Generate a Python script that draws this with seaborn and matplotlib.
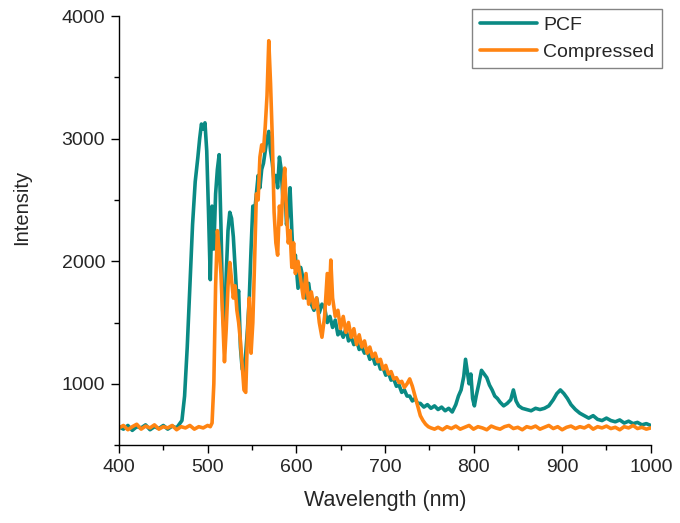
import numpy as np
import pandas as pd
import seaborn as sns
import matplotlib.pyplot as plt
from matplotlib.ticker import MultipleLocator

# PCF spectrum
pcf_wl = [400, 405, 410, 415, 420, 425, 430, 435, 440, 445, 450, 455, 460, 465, 468,
          471, 474, 477, 480, 483, 486, 489, 491, 493, 495, 497, 499, 501, 503, 505,
          507, 509, 511, 513, 515, 517, 519, 521, 523, 525, 527, 529, 531, 533, 535,
          537, 539, 541, 543, 545, 547, 549, 551, 553, 555, 557, 559, 561, 563, 565,
          567, 569, 571, 573, 575, 577, 579, 581, 583, 585, 587, 589, 591, 593, 595,
          597, 599, 602, 605, 608, 611, 614, 617, 620, 623, 626, 629, 632, 635, 638,
          641, 644, 647, 650, 653, 656, 659, 662, 665, 668, 671, 674, 677, 680, 683,
          686, 689, 692, 695, 698, 701, 704, 707, 710, 713, 716, 719, 722, 725, 728,
          731, 734, 737, 740, 744, 748, 752, 756, 760, 764, 768, 772, 776, 780, 783,
          786, 789, 791, 793, 795, 797, 799, 801, 803, 806, 809, 812, 815, 818, 821,
          824, 827, 830, 834, 838, 842, 845, 848, 851, 855, 860, 865, 870, 875, 880,
          885, 890, 894, 898, 902, 906, 910, 915, 920, 925, 930, 935, 940, 945, 950,
          955, 960, 965, 970, 975, 980, 985, 990, 995, 1000]
pcf_int = [650, 630, 660, 620, 650, 640, 665, 625, 650, 635, 660, 630, 655, 640, 670,
           700, 900, 1300, 1800, 2300, 2650, 2850, 3000, 3120, 3080, 3130, 2900, 2400, 1850, 2450,
           2100, 2550, 2750, 2870, 2300, 1600, 1380, 1900, 2250, 2400, 2350, 2200, 1950, 1700, 1760,
           1300, 1120, 1100, 1250, 1450, 1700, 2100, 2450, 2400, 2550, 2700, 2600, 2750, 2800, 2900,
           3000, 3060, 2900, 2800, 2650, 2700, 2600, 2850, 2750, 2500, 2650, 2300, 2400, 2600, 2250,
           1950, 2050, 1780, 1950, 1850, 1700, 1820, 1650, 1600, 1700, 1580, 1650, 1620, 1500, 1550,
           1460, 1520, 1400, 1430, 1380, 1450, 1350, 1380, 1320, 1360, 1280, 1300, 1250, 1270, 1200,
           1230, 1160, 1190, 1120, 1130, 1070, 1090, 1030, 1040, 980, 990, 930, 950, 900, 900,
           860, 880, 840, 840, 810, 830, 800, 820, 790, 810, 780, 800, 770, 830, 900,
           950, 1060, 1200, 1100, 1000, 1080, 880, 820, 900, 1000, 1110, 1080, 1050, 990, 950,
           900, 880, 850, 820, 840, 870, 950, 860, 820, 800, 790, 780, 800, 790, 800,
           820, 870, 920, 950, 920, 880, 830, 790, 760, 740, 720, 740, 710, 700, 720,
           700, 690, 705, 680, 695, 675, 685, 665, 675, 660]

# Compressed spectrum
cmp_wl = [400, 405, 410, 415, 420, 425, 430, 435, 440, 445, 450, 455, 460, 465, 470,
          475, 480, 485, 490, 495, 500, 503, 505, 507, 509, 511, 513, 515, 517, 519,
          521, 523, 525, 527, 529, 531, 533, 535, 537, 539, 541, 543, 545, 547, 549,
          551, 553, 555, 557, 559, 561, 563, 565, 567, 569, 571, 573, 575, 577, 579,
          581, 583, 585, 587, 589, 591, 593, 595, 597, 599, 602, 605, 608, 611, 614,
          617, 620, 623, 626, 629, 632, 635, 637, 639, 641, 644, 647, 650, 653, 656,
          659, 662, 665, 668, 671, 674, 677, 680, 683, 686, 689, 692, 695, 698, 701,
          704, 707, 710, 713, 716, 719, 722, 725, 728, 731, 734, 737, 740, 743, 746,
          749, 752, 756, 760, 765, 770, 775, 780, 785, 790, 795, 800, 805, 810, 815,
          820, 825, 830, 835, 840, 845, 850, 855, 860, 865, 870, 875, 880, 885, 890,
          895, 900, 905, 910, 915, 920, 925, 930, 935, 940, 945, 950, 955, 960, 965,
          970, 975, 980, 985, 990, 995, 1000]
cmp_int = [640, 660, 625, 650, 670, 630, 655, 640, 665, 630, 650, 640, 660, 625, 650,
           640, 660, 630, 650, 640, 660, 650, 680, 1000, 1800, 2250, 2100, 1900, 1550, 1180,
           1450, 1800, 1990, 1850, 1700, 1800, 1600, 1500, 1350, 1150, 950, 930, 1400, 1700, 1250,
           1500, 2000, 2550, 2500, 2850, 2950, 2900, 3100, 3350, 3800, 3450, 3000, 2400, 2150, 2050,
           2450, 2300, 2600, 2760, 2400, 2150, 2250, 1950, 2150, 1900, 2000, 1850, 1700, 1900, 1650,
           1750, 1620, 1700, 1500, 1380, 1550, 1900, 1650, 2010, 1700, 1550, 1600, 1450, 1550, 1420,
           1500, 1380, 1450, 1320, 1400, 1300, 1350, 1250, 1300, 1220, 1250, 1180, 1200, 1120, 1150,
           1080, 1100, 1040, 1050, 1010, 1020, 970, 1000, 1040, 980, 900, 820, 740, 700, 670,
           650, 640, 630, 645, 625, 650, 635, 655, 630, 645, 660, 630, 650, 640, 625,
           655, 640, 630, 650, 660, 635, 645, 625, 650, 640, 655, 630, 645, 660, 635,
           650, 625, 645, 655, 635, 650, 640, 660, 630, 650, 640, 655, 635, 645, 625,
           650, 640, 660, 635, 645, 630, 640]

df_pcf = pd.DataFrame({'wl': pcf_wl, 'val': pcf_int})
df_cmp = pd.DataFrame({'wl': cmp_wl, 'val': cmp_int})

sns.set_style('ticks')
plt.rcParams['font.family'] = ['Liberation Sans', 'DejaVu Sans']

fig = plt.figure(figsize=(6.8, 5.23), dpi=100)
ax = fig.add_axes([0.175, 0.149, 0.782, 0.82])
sns.lineplot(data=df_pcf, x='wl', y='val', ax=ax, color='#0a8a84', lw=2.6, label='PCF')
sns.lineplot(data=df_cmp, x='wl', y='val', ax=ax, color='#ff8412', lw=2.6, label='Compressed')

ax.set_xlim(400, 1000)
ax.set_ylim(500, 4000)
ax.xaxis.set_major_locator(MultipleLocator(100))
ax.xaxis.set_minor_locator(MultipleLocator(50))
ax.yaxis.set_major_locator(MultipleLocator(1000))
ax.yaxis.set_minor_locator(MultipleLocator(500))
ax.tick_params(which='major', length=6, width=1, labelsize=14, color='black', pad=4)
ax.tick_params(which='minor', length=3.5, width=1, color='black')
for s in ['left', 'bottom']:
    ax.spines[s].set_color('black')
    ax.spines[s].set_linewidth(1)
sns.despine(ax=ax)
ax.set_xlabel('Wavelength (nm)', fontsize=15.5, labelpad=10)
ax.set_ylabel('Intensity', fontsize=14.5)
ax.yaxis.set_label_coords(-0.165, 0.555)

leg = ax.legend(loc='upper right', bbox_to_anchor=(0.974, 0.983), bbox_transform=fig.transFigure,
                fontsize=14, frameon=True, fancybox=False, handlelength=2.9,
                borderpad=0.4, labelspacing=0.45, handletextpad=0.35, borderaxespad=0)
leg.get_frame().set_edgecolor('#666666')
leg.get_frame().set_linewidth(1)

fig.savefig('out.png', dpi=100)
